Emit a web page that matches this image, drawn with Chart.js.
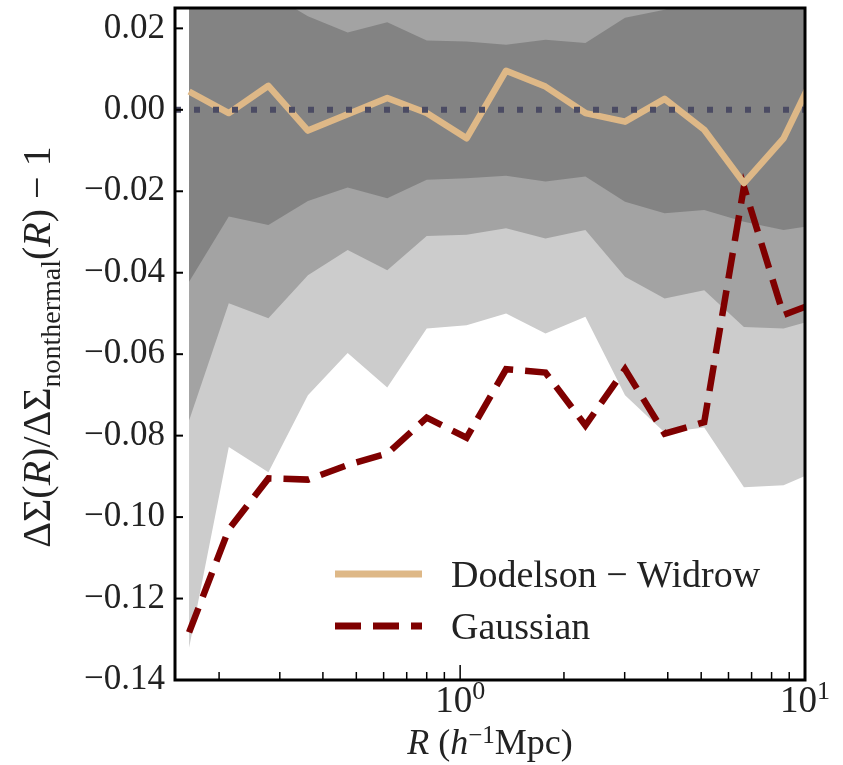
<!DOCTYPE html>
<html>
<head>
<meta charset="utf-8">
<script src="https://cdn.jsdelivr.net/npm/chart.js@4.4.1/dist/chart.umd.min.js"></script>
<style>
  html, body { margin: 0; padding: 0; background: #fff; }
  #wrap { width: 843px; height: 765px; }
</style>
</head>
<body>
<div id="wrap"><canvas id="profileChart" width="843" height="765"></canvas></div>
<script>
// radial bins in h^-1 Mpc (the last one sits just past the right edge)
const radii = [0.1637, 0.2134, 0.2780, 0.3619, 0.4719, 0.6147, 0.8000, 1.044, 1.359,
               1.768, 2.308, 3.007, 3.917, 5.102, 6.651, 8.666, 11.27];

const dodelsonWidrow = [0.0045, -0.0008, 0.0059, -0.0051, -0.0011, 0.0029, -0.0008, -0.0070, 0.0096,
                        0.0057, -0.0008, -0.0029, 0.0027, -0.0049, -0.0180, -0.0070, 0.0130];
const gaussian = [-0.1283, -0.1030, -0.0905, -0.0908, -0.0872, -0.0844, -0.0756, -0.0805, -0.0637,
                  -0.0645, -0.0775, -0.0637, -0.0795, -0.0767, -0.0189, -0.0504, -0.0467];

// scatter envelopes (1, 2, 3 sigma); the upper 2/3 sigma edges are off the top of the plot
const sigma1Upper = [0.0310, 0.0300, 0.0287, 0.0230, 0.0190, 0.0215, 0.0170, 0.0168, 0.0160,
                     0.0172, 0.0164, 0.0226, 0.0246, 0.0280, 0.0300, 0.0310, 0.0310];
const sigma1Lower = [-0.0422, -0.0262, -0.0283, -0.0224, -0.0191, -0.0217, -0.0172, -0.0168, -0.0162,
                     -0.0176, -0.0164, -0.0226, -0.0254, -0.0246, -0.0275, -0.0295, -0.0280];
const sigma2Lower = [-0.0763, -0.0475, -0.0512, -0.0406, -0.0344, -0.0394, -0.0310, -0.0307, -0.0291,
                     -0.0316, -0.0295, -0.0410, -0.0463, -0.0443, -0.0533, -0.0537, -0.0510];
const sigma3Lower = [-0.1321, -0.0828, -0.0890, -0.0701, -0.0597, -0.0682, -0.0537, -0.0529, -0.0500,
                     -0.0549, -0.0508, -0.0701, -0.0792, -0.0780, -0.0927, -0.0922, -0.0880];

const yTicks = [-0.14, -0.12, -0.10, -0.08, -0.06, -0.04, -0.02, 0.00, 0.02];
const xTicks = [0.2, 0.3, 0.4, 0.5, 0.6, 0.7, 0.8, 0.9, 1, 2, 3, 4, 5, 6, 7, 8, 9, 10];
const xMajor = [1, 10];
const xRange = [0.149, 10];
const yRange = [-0.14, 0.025];

const SERIF = '"Liberation Serif", "DejaVu Serif", serif';
const INK = '#222';

const pts = arr => radii.map((r, i) => ({ x: r, y: arr[i] }));

function band(arr, color, order) {
    return {
        data: pts(arr),
        fill: 'end',
        backgroundColor: color,
        borderColor: 'rgba(0,0,0,0)',
        borderWidth: 0,
        pointRadius: 0,
        clip: 0,
        order: order
    };
}

// draw a run of text pieces: [text, style] with style '', 'i', 'sub', 'sup'
function richText(ctx, parts, x, y, size, supShift) {
    const fontFor = st => (st === 'i' ? 'italic ' : '') +
        Math.round(st === 'sub' || st === 'sup' ? size * 0.7 : size) + 'px ' + SERIF;
    let total = 0;
    parts.forEach(p => { ctx.font = fontFor(p[1]); total += ctx.measureText(p[0]).width; });
    let cx = x - total / 2;
    ctx.textAlign = 'left';
    ctx.textBaseline = 'alphabetic';
    parts.forEach(p => {
        ctx.font = fontFor(p[1]);
        const dy = p[1] === 'sub' ? size * 0.24 : (p[1] === 'sup' ? -size * (supShift || 0.33) : 0);
        ctx.fillText(p[0], cx, y + dy);
        cx += ctx.measureText(p[0]).width;
    });
}

const decor = {
    id: 'decor',
    afterDraw(chart) {
        const { ctx, chartArea: a, scales: { x, y } } = chart;
        ctx.save();
        ctx.strokeStyle = '#000';
        ctx.fillStyle = INK;

        // inward ticks
        ctx.lineWidth = 1.5;
        xTicks.forEach(v => {
            const px = x.getPixelForValue(v);
            const len = xMajor.includes(v) ? 15 : 8;
            ctx.beginPath();
            ctx.moveTo(px, a.bottom);
            ctx.lineTo(px, a.bottom - len);
            ctx.stroke();
        });
        ctx.lineWidth = 2;
        yTicks.forEach(v => {
            const py = y.getPixelForValue(v);
            ctx.beginPath();
            ctx.moveTo(a.left, py);
            ctx.lineTo(a.left + 8, py);
            ctx.stroke();
        });

        // frame
        ctx.lineWidth = 3;
        ctx.strokeRect(a.left, a.top, a.right - a.left, a.bottom - a.top);

        // x tick labels 10^n
        xMajor.forEach(v => {
            richText(ctx, [['10', ''], [String(Math.round(Math.log10(v))), 'sup']],
                x.getPixelForValue(v), a.bottom + 32, 37, 0.34);
        });

        // axis titles
        richText(ctx, [['R', 'i'], [' (', ''], ['h', 'i'], ['\u22121', 'sup'], ['Mpc)', '']],
            (a.left + a.right) / 2, 754, 36, 0.3);
        ctx.save();
        ctx.translate(50, (a.top + a.bottom) / 2 + 3);
        ctx.rotate(-Math.PI / 2);
        richText(ctx, [['\u0394\u03A3(', ''], ['R', 'i'], [')/\u0394\u03A3', ''], ['nonthermal', 'sub'],
            ['(', ''], ['R', 'i'], [') \u2212 1', '']], 0, 0, 40);
        ctx.restore();

        // legend
        const entries = chart.data.datasets.filter(d => d.label);
        entries.forEach((d, i) => {
            const rowY = 574 + i * 52;
            ctx.save();
            ctx.strokeStyle = d.borderColor;
            ctx.lineWidth = 7;
            ctx.setLineDash(d.borderDash || []);
            ctx.lineCap = 'butt';
            ctx.beginPath();
            ctx.moveTo(335, rowY);
            ctx.lineTo(422, rowY);
            ctx.stroke();
            ctx.restore();
            ctx.font = '38px ' + SERIF;
            ctx.textAlign = 'left';
            ctx.textBaseline = 'alphabetic';
            ctx.fillStyle = INK;
            ctx.fillText(d.label, 451, rowY + 13);
        });
        ctx.restore();
    }
};

const ctx = document.getElementById('profileChart').getContext('2d');
new Chart(ctx, {
    type: 'line',
    data: {
        datasets: [
            {
                data: [{ x: xRange[0], y: 0 }, { x: xRange[1], y: 0 }],
                borderColor: '#4b4b63',
                borderWidth: 6,
                borderDash: [6, 13],
                borderCapStyle: 'butt',
                pointRadius: 0,
                fill: false,
                clip: 0,
                order: 0
            },
            {
                label: 'Dodelson \u2212 Widrow',
                data: pts(dodelsonWidrow),
                borderColor: '#deb887',
                borderWidth: 6.5,
                borderJoinStyle: 'round',
                pointRadius: 0,
                fill: false,
                clip: 0,
                order: 1
            },
            {
                label: 'Gaussian',
                data: pts(gaussian),
                borderColor: '#7f0000',
                borderWidth: 6.5,
                borderDash: [26, 12],
                borderCapStyle: 'butt',
                pointRadius: 0,
                fill: false,
                clip: 0,
                order: 2
            },
            band(sigma1Upper, '#a3a3a3', 3),
            band(sigma1Lower, '#838383', 4),
            band(sigma2Lower, '#a3a3a3', 5),
            band(sigma3Lower, '#cccccc', 6)
        ]
    },
    options: {
        responsive: false,
        animation: false,
        events: [],
        layout: { padding: { left: 0, top: 8, right: 38, bottom: 0 } },
        plugins: {
            legend: { display: false },
            tooltip: { enabled: false }
        },
        scales: {
            x: {
                type: 'logarithmic',
                min: xRange[0],
                max: xRange[1],
                grid: { display: false, drawTicks: false },
                border: { display: false },
                ticks: { display: false },
                afterFit: s => { s.height = 85; s.paddingLeft = 0; s.paddingRight = 0; }
            },
            y: {
                type: 'linear',
                min: yRange[0],
                max: yRange[1],
                grid: { display: false, drawTicks: false },
                border: { display: false },
                afterBuildTicks: s => { s.ticks = yTicks.map(v => ({ value: v })); },
                ticks: {
                    padding: 10,
                    color: INK,
                    font: { family: SERIF, size: 35 },
                    callback: v => (v < -1e-9 ? '\u2212' : '') + Math.abs(v).toFixed(2)
                },
                afterFit: s => { s.width = 175; s.paddingTop = 0; s.paddingBottom = 0; }
            }
        }
    },
    plugins: [decor]
});
</script>
</body>
</html>
